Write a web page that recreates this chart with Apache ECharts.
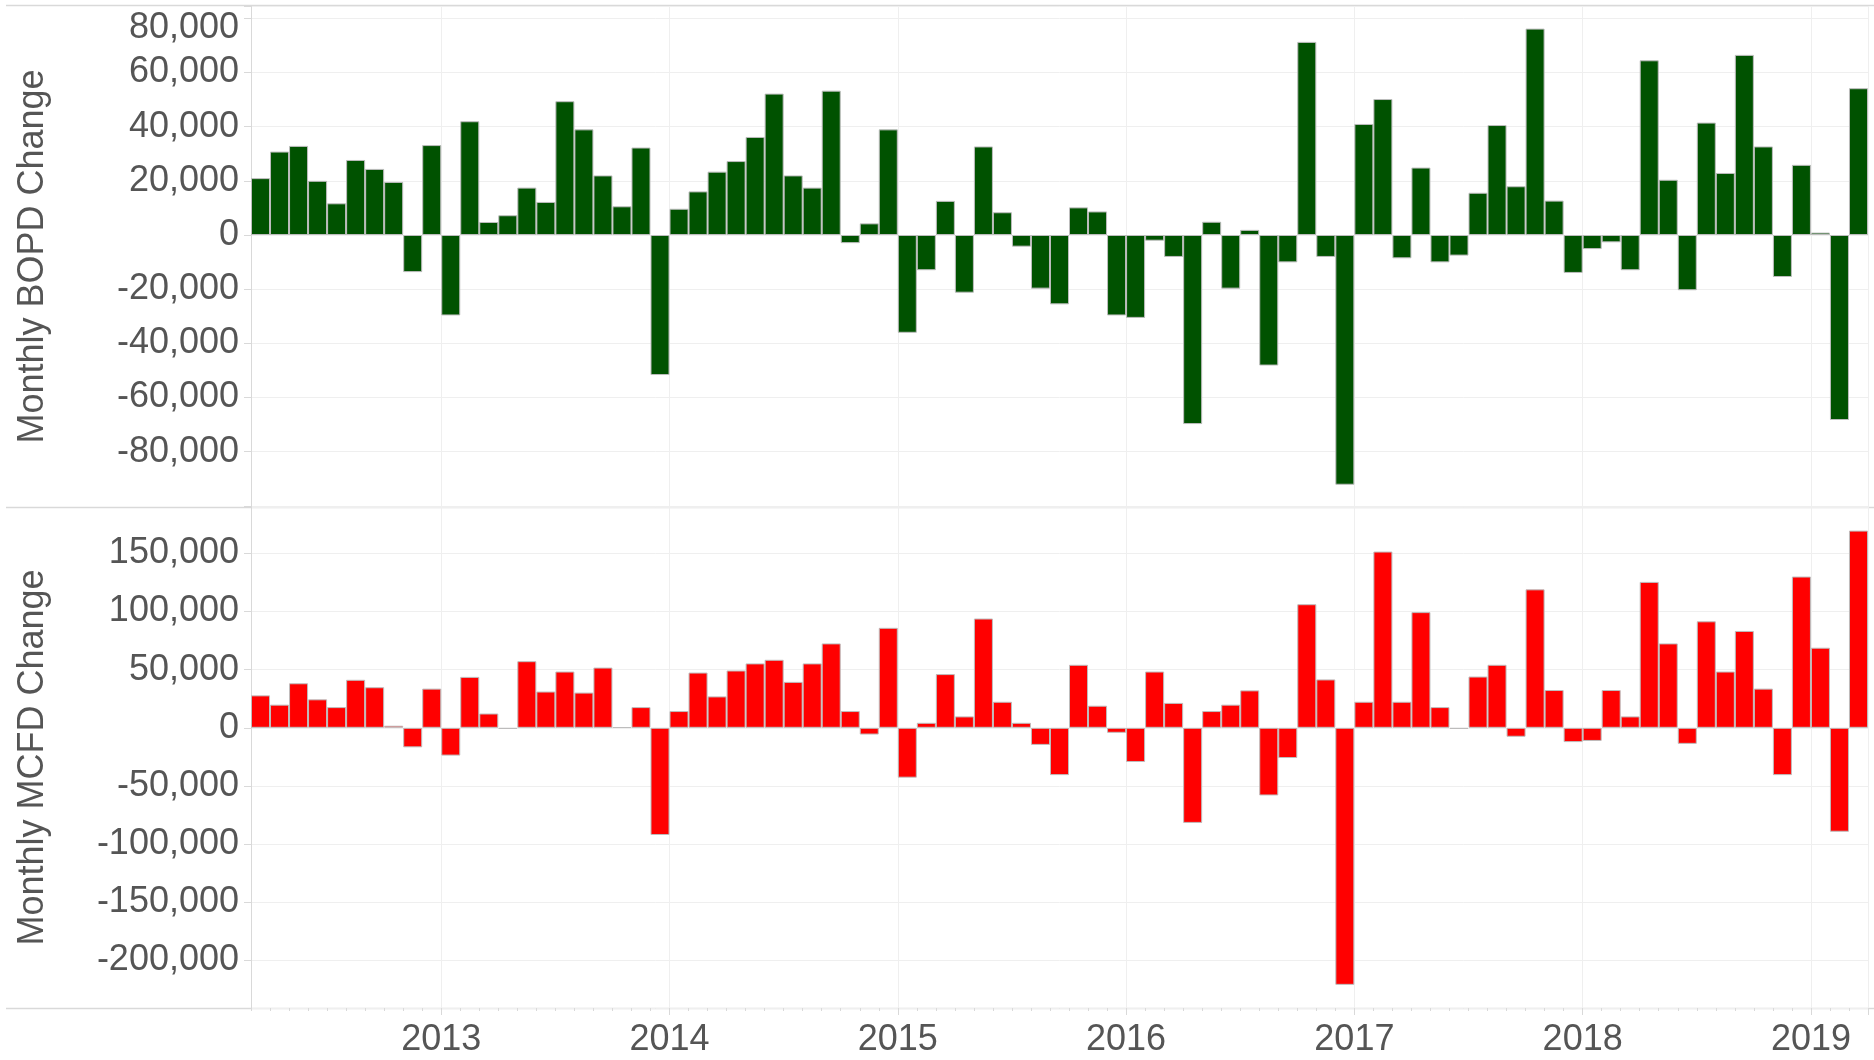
<!DOCTYPE html>
<html lang="en">
<head>
<meta charset="UTF-8">
<title>Monthly BOPD / MCFD Change</title>
<style>
    html, body { margin: 0; padding: 0; background: #fff; }
    #main { width: 1874px; height: 1060px; }
</style>
</head>
<body>
<div id="main"></div>
<script src="https://cdn.jsdelivr.net/npm/echarts@6/dist/echarts.min.js"></script>
<script>
    // months run from Mar 2012 to Mar 2019, one bar each
    var startYear = 2012, startMonth = 3, monthCount = 85;
    var months = [];
    for (var i = 0; i < monthCount; i++) {
        var m = startMonth - 1 + i;
        var mm = (m % 12) + 1;
        months.push((startYear + Math.floor(m / 12)) + '-' + (mm < 10 ? '0' + mm : mm));
    }

    var yearTicks = ['2013', '2014', '2015', '2016', '2017', '2018', '2019'];
    var oilTicks = [80000, 60000, 40000, 20000, 0, -20000, -40000, -60000, -80000];
    var gasTicks = [150000, 100000, 50000, 0, -50000, -100000, -150000, -200000];

    // Monthly BOPD change
    var oil2012 = [21000, 30800, 32900, 20000, 11700, 27700, 24400, 19600, -13700, 33200];
    var oil2013 = [-29700, 42000, 4800, 7300, 17500, 12200, 49400, 39000, 22000, 10600, 32300, -51700];
    var oil2014 = [9700, 16100, 23400, 27300, 36200, 52200, 22000, 17500, 53300, -3000, 4300, 39000];
    var oil2015 = [-36100, -13000, 12600, -21300, 32700, 8400, -4300, -19800, -25600, 10200, 8700, -29700];
    var oil2016 = [-30600, -2100, -8100, -69800, 4900, -19800, 1900, -48200, -10100, 71300, -8100, -92200];
    var oil2017 = [41000, 50200, -8600, 24900, -10100, -7600, 15600, 40600, 18000, 76200, 12700, -14000];
    var oil2018 = [-5200, -2700, -13000, 64500, 20400, -20400, 41500, 22900, 66500, 32700, -15500, 25900];
    var oil2019 = [900, -68300, 54200];

    // Monthly MCFD change
    var gas2012 = [27900, 19900, 38300, 24500, 17800, 41300, 34900, 1800, -16800, 33700];
    var gas2013 = [-23900, 43800, 12300, -1000, 57300, 31200, 48400, 30300, 51800, 500, 17800, -92200];
    var gas2014 = [14400, 47500, 27000, 49300, 55400, 58500, 39500, 55400, 72600, 14400, -5800, 86000];
    var gas2015 = [-42900, 4300, 46200, 9800, 94000, 22400, 4300, -14700, -40700, 54200, 19000, -4300];
    var gas2016 = [-29400, 48400, 21400, -81800, 14400, 19900, 32200, -58200, -26000, 106300, 41600, -221100];
    var gas2017 = [22400, 151600, 22400, 99500, 17800, -1000, 44100, 54200, -7700, 119100, 32500, -12300];
    var gas2018 = [-11300, 32500, 9800, 125500, 72600, -13800, 91600, 48400, 83300, 33700, -40700, 130100];
    var gas2019 = [68900, -89400, 169600];

    var oilData = [].concat(oil2012, oil2013, oil2014, oil2015, oil2016, oil2017, oil2018, oil2019);
    var gasData = [].concat(gas2012, gas2013, gas2014, gas2015, gas2016, gas2017, gas2018, gas2019);

    var font = 'Liberation Sans, Arial, sans-serif';
    var textColor = '#555';
    var gridColor = '#efefef';
    var ruleColor = '#d9d9d9';

    function isYearStart(index, value) {
        return value.slice(5) === '01' && yearTicks.indexOf(value.slice(0, 4)) >= 0;
    }
    // the top tick label is nudged down so it stays inside the pane
    function fmt(list) {
        return function (v) {
            if (list.indexOf(v) < 0) return '';
            var s = v.toLocaleString('en-US');
            return v === list[0] && list === oilTicks ? '{top|' + s + '}' : s;
        };
    }

    var myChart = echarts.init(document.getElementById('main'));

    var yLabel = {
        fontSize: 36, color: textColor, margin: 12,
        rich: { top: { fontSize: 36, color: textColor, fontFamily: font, padding: [19, 0, 0, 0] } }
    };

    option = {
        animation: false,
        textStyle: { fontFamily: font },
        grid: [
            { left: 251, right: 6, top: 6, height: 501 },
            { left: 251, right: 6, top: 507, height: 501 }
        ],
        graphic: [
            { type: 'line', shape: { x1: 6, y1: 5.5, x2: 1874, y2: 5.5 }, style: { stroke: ruleColor, lineWidth: 1.5 } },
            { type: 'line', shape: { x1: 6, y1: 507.5, x2: 1874, y2: 507.5 }, style: { stroke: ruleColor, lineWidth: 1.5 } },
            { type: 'line', shape: { x1: 6, y1: 1008.5, x2: 1874, y2: 1008.5 }, style: { stroke: ruleColor, lineWidth: 1.5 } }
        ],
        xAxis: [
            {
                gridIndex: 0, type: 'category', data: months,
                axisLine: { show: false }, axisTick: { show: false }, axisLabel: { show: false },
                splitLine: { show: true, interval: isYearStart, lineStyle: { color: gridColor } }
            },
            {
                gridIndex: 1, type: 'category', data: months, position: 'bottom',
                axisLine: { show: false, onZero: false },
                axisTick: { show: true, interval: 0, length: 3, lineStyle: { color: ruleColor } },
                axisLabel: { show: false },
                splitLine: { show: true, interval: isYearStart, lineStyle: { color: gridColor } }
            },
            {
                gridIndex: 1, type: 'category', data: months, position: 'bottom',
                axisLine: { show: false, onZero: false },
                axisTick: { show: true, interval: isYearStart, length: 7, lineStyle: { color: ruleColor } },
                axisLabel: {
                    show: true, interval: isYearStart, margin: 14,
                    formatter: function (v) { return '{y|' + v.slice(0, 4) + '}'; },
                    rich: { y: { fontSize: 36, color: textColor, fontFamily: font, padding: [0, 19, 0, 0] } }
                },
                splitLine: { show: false }
            }
        ],
        yAxis: [
            {
                gridIndex: 0, type: 'value',
                min: -100420, max: 84550, splitNumber: 9, minInterval: 20000, maxInterval: 20000,
                name: 'Monthly BOPD Change', nameLocation: 'middle', nameGap: 200,
                nameTextStyle: { fontSize: 36, color: textColor },
                axisLine: { show: true, lineStyle: { color: ruleColor } },
                axisTick: { show: true, length: 7, lineStyle: { color: ruleColor } },
                axisLabel: Object.assign({ formatter: fmt(oilTicks) }, yLabel),
                splitLine: { show: true, lineStyle: { color: gridColor } }
            },
            {
                gridIndex: 1, type: 'value',
                min: -241010, max: 189920, splitNumber: 8, minInterval: 50000, maxInterval: 50000,
                name: 'Monthly MCFD Change', nameLocation: 'middle', nameGap: 200,
                nameTextStyle: { fontSize: 36, color: textColor },
                axisLine: { show: true, lineStyle: { color: ruleColor } },
                axisTick: { show: true, length: 7, lineStyle: { color: ruleColor } },
                axisLabel: Object.assign({ formatter: fmt(gasTicks) }, yLabel),
                splitLine: { show: true, lineStyle: { color: gridColor } }
            }
        ],
        series: [
            {
                name: 'BOPD', type: 'bar', xAxisIndex: 0, yAxisIndex: 0,
                barCategoryGap: '0%',
                itemStyle: { color: '#005200', borderColor: '#bdbdbd', borderWidth: 1 },
                data: oilData
            },
            {
                name: 'MCFD', type: 'bar', xAxisIndex: 1, yAxisIndex: 1,
                barCategoryGap: '0%',
                itemStyle: { color: '#ff0000', borderColor: '#bdbdbd', borderWidth: 1 },
                data: gasData
            }
        ]
    };

    myChart.setOption(option);
</script>
</body>
</html>
